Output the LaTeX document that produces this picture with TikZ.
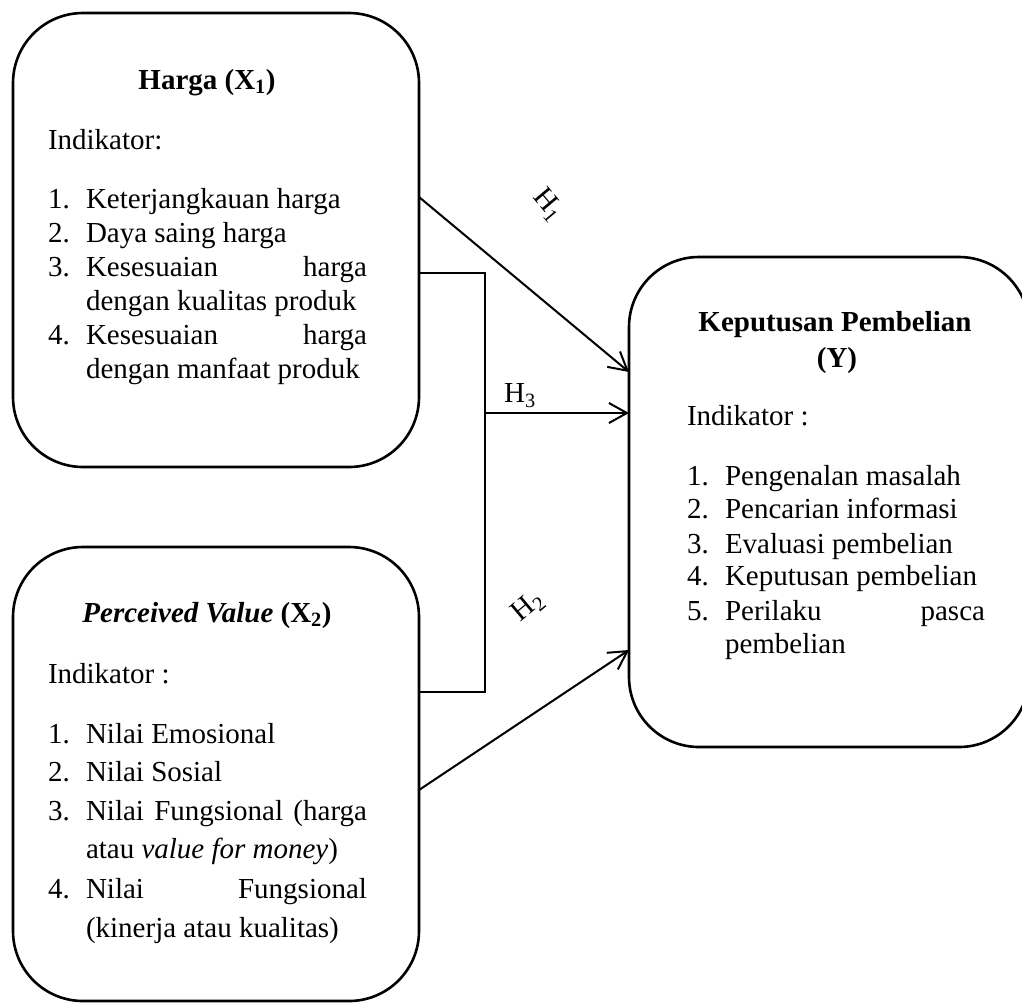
\documentclass[tikz,border=0pt]{standalone}
\usepackage{fontspec}
\setmainfont{Liberation Serif}
\usetikzlibrary{arrows.meta}
\tikzset{
  box/.style={draw, line width=2.6pt, rounded corners=70pt, rectangle, inner sep=0pt, outer sep=0pt},
  txt/.style={anchor=base west, inner sep=0pt, outer sep=0pt, font=\fontsize{29}{34}\selectfont},
  ttl/.style={anchor=base, inner sep=0pt, outer sep=0pt, font=\fontsize{29}{34}\selectfont\bfseries},
  hlab/.style={inner sep=0pt, outer sep=0pt, font=\fontsize{29}{34}\selectfont},
  arr/.style={line width=2pt, -{Straight Barb[length=18pt,width=20pt,line width=2pt]}},
  brk/.style={line width=1.6pt}
}
\begin{document}
\begin{tikzpicture}[x=1pt,y=-1pt]
\useasboundingbox (0,0) rectangle (1022,1002);
\clip (0,0) rectangle (1022,1002);

% boxes
\node[box, minimum width=406pt, minimum height=454pt] (hbox) at (216,240) {};
\node[box, minimum width=406pt, minimum height=454pt] (pbox) at (216,774) {};
\node[box, minimum width=400pt, minimum height=490pt] (ybox) at (829,502) {};

% box 1 text
\node[ttl] (t1) at (207,89) {Harga (X\textsubscript{1})};
\node[txt] (t1i) at (48,149) {Indikator:};
\node[txt] (t1n1) at (48,208) {1.};
\node[txt] (t1a) at (86,208) {Keterjangkauan harga};
\node[txt] (t1n2) at (48,242) {2.};
\node[txt] (t1b) at (86,242) {Daya saing harga};
\node[txt] (t1n3) at (48,276) {3.};
\node[txt] (t1c) at (86,276) {\makebox[281pt][s]{Kesesuaian harga}};
\node[txt] (t1c2) at (86,310) {dengan kualitas produk};
\node[txt] (t1n4) at (48,344) {4.};
\node[txt] (t1d) at (86,344) {\makebox[281pt][s]{Kesesuaian harga}};
\node[txt] (t1d2) at (86,378) {dengan manfaat produk};

% box 2 text
\node[ttl] (t2) at (207,622) {\textit{Perceived Value} (X\textsubscript{2})};
\node[txt] (t2i) at (48,683) {Indikator :};
\node[txt] (t2n1) at (48,743) {1.};
\node[txt] (t2a) at (86,743) {Nilai Emosional};
\node[txt] (t2n2) at (48,781) {2.};
\node[txt] (t2b) at (86,781) {Nilai Sosial};
\node[txt] (t2n3) at (48,820) {3.};
\node[txt] (t2c) at (86,820) {\makebox[281pt][s]{Nilai Fungsional (harga}};
\node[txt] (t2c2) at (86,858) {atau \textit{value for money})};
\node[txt] (t2n4) at (48,898) {4.};
\node[txt] (t2d) at (86,898) {\makebox[281pt][s]{Nilai Fungsional}};
\node[txt] (t2d2) at (86,937) {(kinerja atau kualitas)};

% box 3 text
\node[ttl] (t3) at (835,331) {Keputusan Pembelian};
\node[ttl] (t3y) at (837,367) {(Y)};
\node[txt] (t3i) at (687,425) {Indikator :};
\node[txt] (t3n1) at (687,485) {1.};
\node[txt] (t3a) at (725,485) {Pengenalan masalah};
\node[txt] (t3n2) at (687,518) {2.};
\node[txt] (t3b) at (725,518) {Pencarian informasi};
\node[txt] (t3n3) at (687,553) {3.};
\node[txt] (t3c) at (725,553) {Evaluasi pembelian};
\node[txt] (t3n4) at (687,585) {4.};
\node[txt] (t3d) at (725,585) {Keputusan pembelian};
\node[txt] (t3n5) at (687,620) {5.};
\node[txt] (t3e) at (725,620) {\makebox[260pt][s]{Perilaku pasca}};
\node[txt] (t3e2) at (725,653) {pembelian};

% connectors
\coordinate (jn) at (485,413);
\draw[arr] ([yshift=43pt]hbox.east) -- ([yshift=130pt]ybox.west);
\draw[brk] ([yshift=-33pt]hbox.east) -| (jn) |- ([yshift=82pt]pbox.east);
\draw[arr] (jn) -- ([yshift=89pt]ybox.west);
\draw[arr] ([yshift=-16pt]pbox.east) -- ([yshift=-148pt]ybox.west);

% labels
\node[hlab, rotate=-50] (lh1) at (548,205) {H\textsubscript{1}};
\node[hlab] (lh3) at (520,396) {H\textsubscript{3}};
\node[hlab, rotate=40] (lh2) at (528,607) {H\textsubscript{2}};
\end{tikzpicture}
\end{document}
